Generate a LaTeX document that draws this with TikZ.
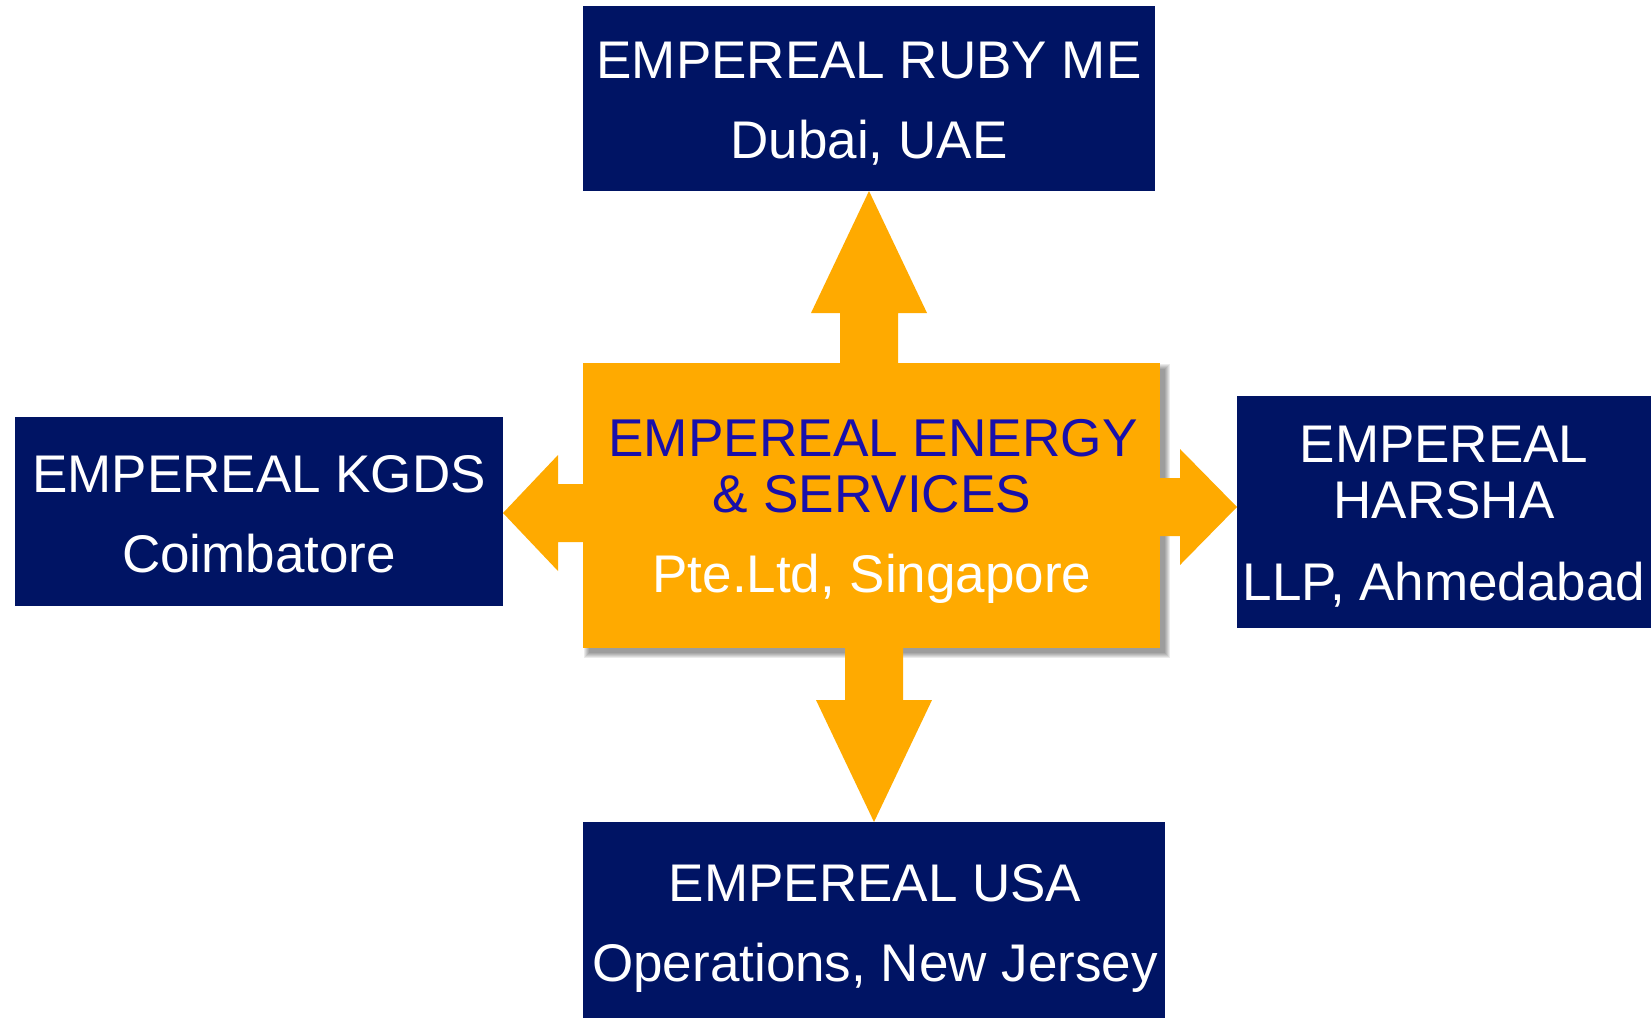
\documentclass[tikz,border=0pt]{standalone}
\usepackage{fontspec}
\setmainfont{Liberation Sans}
\usetikzlibrary{calc}
\definecolor{navy}{RGB}{0,20,100}
\definecolor{amber}{RGB}{255,170,0}
\definecolor{inkblue}{RGB}{25,15,170}
\begin{document}
\begin{tikzpicture}[x=0.5pt,y=-0.5pt,
  unit/.style={fill=navy, draw=none, inner sep=0pt, outer sep=0pt, anchor=north west},
  hub/.style={fill=amber, draw=none, inner sep=0pt, outer sep=0pt, anchor=north west},
  blockarrow/.style={fill=amber, draw=none},
  lbl/.style={anchor=base, inner sep=0pt, text=white, font=\fontsize{26.5pt}{30pt}\selectfont},
  hublbl/.style={anchor=base, inner sep=0pt, text=inkblue, font=\fontsize{26.6pt}{30pt}\selectfont}]
\useasboundingbox (0,0) rectangle (1652,1018);

% outer company boxes
\node[unit, minimum width=286pt, minimum height=92.5pt] (top) at (583,6) {};
\node[unit, minimum width=244pt, minimum height=94.5pt] (left) at (15,417) {};
\node[unit, minimum width=207pt, minimum height=116pt] (right) at (1237,396) {};
\node[unit, minimum width=291pt, minimum height=98pt] (bottom) at (583,822) {};

% central box geometry (drawn later, above the arrows)
\path (583,363) coordinate (cnw) (1160,648) coordinate (cse);

% soft shadow of the central box
\foreach \r in {0,1,2,3,4,5}
  \fill[black, opacity=0.08] ($(cnw)+(6-\r,6-\r)$) rectangle ($(cse)+(5+\r,5+\r)$);

% block arrows from the central box to each company
\fill[blockarrow] (top.south) -- ++(58,122) -- ++(-29,0) -- ++(0,60)
  -- ++(-58,0) -- ++(0,-60) -- ++(-29,0) -- cycle;
\fill[blockarrow] (bottom.north) -- ++(58,-122) -- ++(-29,0) -- ++(0,-60)
  -- ++(-58,0) -- ++(0,60) -- ++(-29,0) -- cycle;
\fill[blockarrow] ($(left.east)+(0,1.5)$) -- ++(55,-58) -- ++(0,29) -- ++(35,0)
  -- ++(0,58) -- ++(-35,0) -- ++(0,29) -- cycle;
\fill[blockarrow] ($(right.west)+(0,-5)$) -- ++(-57,-58) -- ++(0,29) -- ++(-35,0)
  -- ++(0,58) -- ++(35,0) -- ++(0,29) -- cycle;

% central box
\node[hub, minimum width=288.5pt, minimum height=142.5pt] (center) at (cnw) {};

% labels
\node[lbl] (topa) at (869,78) {EMPEREAL RUBY ME};
\node[lbl] (topb) at (869,158) {Dubai, UAE};

\node[lbl] (lefta) at (259,492) {EMPEREAL KGDS};
\node[lbl] (leftb) at (259,572) {Coimbatore};

\node[lbl] (righta) at (1444,462) {EMPEREAL};
\node[lbl] (rightb) at (1444,518) {HARSHA};
\node[lbl] (rightc) at (1444,600) {LLP, Ahmedabad};

\node[hublbl] (huba) at (873,456) {EMPEREAL ENERGY};
\node[hublbl] (hubb) at (872,512) {\& SERVICES};
\node[lbl] (hubc) at (872,592) {Pte.Ltd, Singapore};

\node[lbl] (bota) at (875,901) {EMPEREAL USA};
\node[lbl] (botb) at (875,981) {Operations, New Jersey};
\end{tikzpicture}
\end{document}
